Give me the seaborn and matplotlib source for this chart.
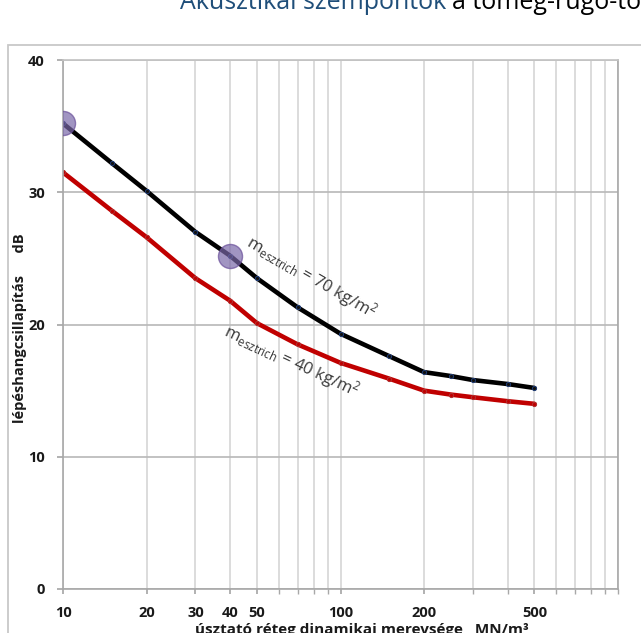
import matplotlib
matplotlib.use("Agg")
import matplotlib.pyplot as plt
import seaborn as sns
import pandas as pd
from matplotlib.patches import Rectangle
from matplotlib.ticker import FixedLocator, LogLocator, NullFormatter

# adatok (leolvasva az ábráról)
stiffness = [10, 15, 20, 30, 40, 50, 70, 100, 150, 200, 250, 300, 400, 500]
damping_70 = [35.2, 32.2, 30.1, 27.0, 25.2, 23.5, 21.3, 19.3, 17.6, 16.4, 16.1, 15.8, 15.5, 15.2]
damping_40 = [31.5, 28.6, 26.6, 23.5, 21.8, 20.1, 18.5, 17.1, 15.9, 15.0, 14.7, 14.5, 14.2, 14.0]
highlight_x = [10, 40]
highlight_y = [35.2, 25.2]
x_ticks = [10, 20, 30, 40, 50, 100, 200, 500]
y_ticks = [0, 10, 20, 30, 40]

df = pd.DataFrame({'s': stiffness, 'L70': damping_70, 'L40': damping_40})

sns.set_theme(style="white")
plt.rcParams['font.family'] = ['Open Sans', 'DejaVu Sans']
plt.rcParams['mathtext.default'] = 'regular'

W, H = 641, 633
fig = plt.figure(figsize=(W / 100, H / 100), dpi=100)
ax = fig.add_axes([63 / W, 44 / H, 555 / W, 529 / H])

# külső keret
fig.patches.append(Rectangle((8 / W, -0.1), 1.2, (H - 45) / H + 0.1,
                             transform=fig.transFigure, fill=False,
                             ec='#c8c8c8', lw=1.3))

ax.set_xscale('log')
ax.set_xlim(10, 1000)
ax.set_ylim(0, 40)
ax.xaxis.set_major_locator(FixedLocator(x_ticks))
ax.xaxis.set_minor_locator(LogLocator(base=10, subs=range(1, 10)))
ax.xaxis.set_minor_formatter(NullFormatter())
ax.set_xticklabels([str(v) for v in x_ticks])
ax.set_yticks(y_ticks)

ax.grid(True, which='both', axis='x', color='#d6d6d6', lw=1.2)
ax.grid(True, which='major', axis='y', color='#b8b8b8', lw=1.2)
ax.set_axisbelow(True)

for side in ['left', 'bottom', 'right']:
    ax.spines[side].set_color('#a8a8a8')
    ax.spines[side].set_linewidth(1.2)
ax.spines['top'].set_color('#c4c4c4')

ax.tick_params(axis='x', which='both', direction='out', length=3.6, color='#a8a8a8',
               pad=8.5, labelsize=10.5, bottom=True)
ax.tick_params(axis='y', direction='out', length=4.3, color='#a8a8a8', pad=8.7,
               labelsize=10.5, left=True)
for lab in ax.get_xticklabels() + ax.get_yticklabels():
    lab.set_fontweight('bold')
    lab.set_color('#1a1a1a')

sns.lineplot(data=df, x='s', y='L40', ax=ax, color='#c00000', lw=3.3,
             marker='o', markersize=3, markeredgecolor='#b03030',
             markerfacecolor='#c00000')
sns.lineplot(data=df, x='s', y='L70', ax=ax, color='black', lw=3.3,
             marker='o', markersize=3, markeredgecolor='#1f3b73',
             markerfacecolor='#101010')

ax.scatter(highlight_x, highlight_y, s=300, c='#7a68a8', alpha=0.7,
           edgecolors='#6a4f9a', linewidths=1, zorder=5)

ax.set_xlabel('')
ax.set_ylabel('')

ax.text(45.3, 26.0, '$m_{esztrich}$ = 70 kg/m$^2$', rotation=-30,
        rotation_mode='anchor', ha='left', va='baseline', fontsize=12,
        color='#3a3a3a')
ax.text(37.7, 19.2, '$m_{esztrich}$ = 40 kg/m$^2$', rotation=-25,
        rotation_mode='anchor', ha='left', va='baseline', fontsize=12,
        color='#3a3a3a')

# tengelyfeliratok
fig.text(20 / W, (H - 328) / H, 'lépéshangcsillapítás      dB', rotation=90,
         ha='center', va='center', fontsize=10.5, fontweight='bold', color='#1a1a1a')
fig.text(195 / W, (H - 623) / H, 'úsztató réteg dinamikai merevsége   MN/m³',
         ha='left', va='top', fontsize=11, fontweight='bold', color='#1a1a1a')

# cím (levágva)
fig.text(180 / W, (H - 9) / H, 'Akusztikai szempontok', ha='left', va='baseline',
         fontsize=18, color='#1f4e79')
fig.text(452 / W, (H - 9) / H, 'a tömeg-rugó-tömeg rendszer', ha='left',
         va='baseline', fontsize=18, color='black')

fig.savefig('out.png', dpi=100)
